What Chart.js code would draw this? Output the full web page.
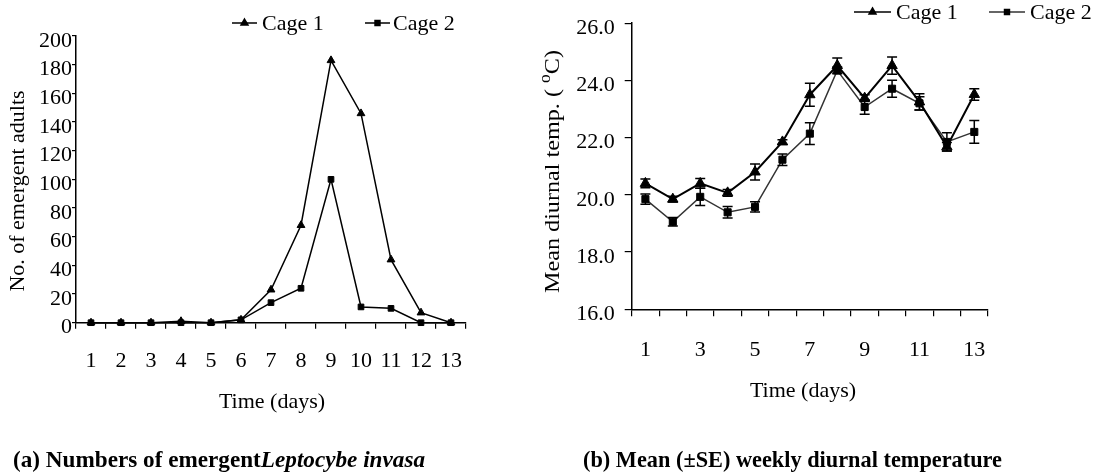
<!DOCTYPE html>
<html><head><meta charset="utf-8">
<script src="https://cdn.jsdelivr.net/npm/chart.js@4.4.1/dist/chart.umd.min.js"></script>
<style>
html,body{margin:0;padding:0;background:#fff;width:1107px;height:475px;overflow:hidden;}
#wa{position:absolute;left:0;top:0;width:530px;height:475px;}
#wb{position:absolute;left:530px;top:0;width:577px;height:475px;}
</style></head><body>
<div id="wa"><canvas id="ca" width="530" height="475"></canvas></div>
<div id="wb"><canvas id="cb" width="577" height="475"></canvas></div>
<script>
// ---------- data ----------
const days = ['1','2','3','4','5','6','7','8','9','10','11','12','13'];
const seriesNames = ['Cage 1', 'Cage 2'];
const emergCage1 = [0, 0, 0, 1, 0, 2, 23, 68, 183, 146, 44, 7, 0];
const emergCage2 = [0, 0, 0, 0, 0, 2, 14, 24, 100, 11, 10, 0, 0];
const emergTicks = [0, 20, 40, 60, 80, 100, 120, 140, 160, 180, 200];
const tempCage1   = [20.40, 19.85, 20.40, 20.07, 20.80, 21.85, 23.50, 24.52, 23.38, 24.52, 23.25, 21.68, 23.51];
const tempCage1SE = [0.15, 0.10, 0.17, 0.12, 0.28, 0.08, 0.40, 0.26, 0.12, 0.30, 0.28, 0.15, 0.20];
const tempCage2   = [19.85, 19.06, 19.93, 19.39, 19.58, 21.23, 22.14, 24.35, 23.07, 23.71, 23.20, 21.85, 22.20];
const tempCage2SE = [0.18, 0.15, 0.30, 0.20, 0.18, 0.20, 0.38, 0.12, 0.25, 0.30, 0.23, 0.32, 0.40];
const tempTicks = [16, 18, 20, 22, 24, 26];
const xTitle = 'Time (days)';
const yTitleA = 'No. of emergent adults';

const SERIF = '"Liberation Serif", "Times New Roman", serif';
const F22 = {family: SERIF, size: 22};

// error bar plugin
const errorBars = {
  id: 'errorBars',
  afterDatasetsDraw(chart) {
    const ctx = chart.ctx, ys = chart.scales.y;
    ctx.save();
    chart.data.datasets.forEach((ds, di) => {
      if (!ds.errors) return;
      const meta = chart.getDatasetMeta(di);
      ctx.strokeStyle = '#000';
      ctx.lineWidth = 1.5;
      meta.data.forEach((pt, i) => {
        const v = ds.data[i], e = ds.errors[i];
        const y1 = ys.getPixelForValue(v + e), y2 = ys.getPixelForValue(v - e);
        const x = pt.x, cw = 5;
        ctx.beginPath();
        ctx.moveTo(x, y1); ctx.lineTo(x, y2);
        ctx.moveTo(x - cw, y1); ctx.lineTo(x + cw, y1);
        ctx.moveTo(x - cw, y2); ctx.lineTo(x + cw, y2);
        ctx.stroke();
      });
    });
    ctx.restore();
  }
};

// decoration plugin: axis titles, legend, caption
const decor = {
  id: 'decor',
  afterDraw(chart, args, o) {
    const ctx = chart.ctx;
    ctx.save();
    ctx.fillStyle = '#000'; ctx.strokeStyle = '#000';
    (o.texts || []).forEach(t => {
      ctx.save();
      ctx.translate(t.x, t.y);
      if (t.rot) ctx.rotate(t.rot);
      ctx.textBaseline = 'middle';
      const segs = t.segs;
      let total = 0;
      segs.forEach(s => { ctx.font = s.font; s.w = ctx.measureText(s.text).width; total += s.w; });
      const scale = t.width ? t.width / total : 1;
      let x = t.align === 'left' ? 0 : -total * scale / 2;
      segs.forEach(s => {
        ctx.font = s.font;
        ctx.textAlign = 'left';
        ctx.save();
        ctx.translate(x, s.dy || 0);
        ctx.scale(scale, 1);
        ctx.fillText(s.text, 0, 0);
        ctx.restore();
        x += s.w * scale;
      });
      ctx.restore();
    });
    (o.legend || []).forEach((L, i) => {
      const ds = chart.data.datasets[i];
      ctx.strokeStyle = ds.borderColor;
      ctx.lineWidth = 1.5;
      ctx.beginPath(); ctx.moveTo(L.x1, L.y); ctx.lineTo(L.x2, L.y); ctx.stroke();
      ctx.fillStyle = '#000'; ctx.strokeStyle = '#000';
      Chart.helpers.drawPoint(ctx, {pointStyle: ds.pointStyle, radius: L.r, rotation: 0, borderWidth: 1}, (L.x1 + L.x2) / 2, L.y);
      ctx.font = '22px ' + SERIF;
      ctx.textAlign = 'left'; ctx.textBaseline = 'middle';
      ctx.fillText(ds.label, L.tx, L.y + 1);
    });
    ctx.restore();
  }
};

// ---------- chart (a) ----------
new Chart(document.getElementById('ca'), {
  type: 'line',
  data: {
    labels: days,
    datasets: [
      {label: seriesNames[0], data: emergCage1, borderColor: '#000', backgroundColor: '#000', borderWidth: 1.5,
       pointStyle: 'triangle', pointRadius: 4.5, pointBorderWidth: 1, tension: 0, clip: false},
      {label: seriesNames[1], data: emergCage2, borderColor: '#000', backgroundColor: '#000', borderWidth: 1.5,
       pointStyle: 'rect', pointRadius: 4, pointBorderWidth: 1, tension: 0, clip: false}
    ]
  },
  options: {
    responsive: false, animation: false, devicePixelRatio: 1,
    layout: {padding: {left: 0, right: 64, top: 36, bottom: 92.3}},
    plugins: {
      legend: {display: false}, tooltip: {enabled: false},
      decor: {
        texts: [
          {x: 18.5, y: 191, rot: -Math.PI / 2, segs: [{text: yTitleA, font: '22px ' + SERIF}]},
          {x: 272, y: 402, segs: [{text: xTitle, font: '22px ' + SERIF}]},
          {x: 13, y: 461, align: 'left', width: 412, segs: [
            {text: '(a) Numbers of emergent', font: 'bold 23px ' + SERIF},
            {text: 'Leptocybe invasa', font: 'italic bold 23px ' + SERIF}]}
        ],
        legend: [
          {x1: 232, x2: 257, y: 23, r: 4, tx: 262},
          {x1: 365, x2: 390, y: 23, r: 3.5, tx: 393}
        ]
      }
    },
    scales: {
      x: {
        type: 'category', offset: true,
        border: {display: true, color: '#000', width: 1.5},
        grid: {display: true, drawOnChartArea: false, drawTicks: true, offset: true, tickLength: 6, color: '#000', lineWidth: 1.2},
        ticks: {color: '#000', font: F22, padding: 19, maxRotation: 0, autoSkip: false},
        afterFit: s => { s.height = 60; }
      },
      y: {
        min: 0, max: 200,
        border: {display: true, color: '#000', width: 1.5},
        afterBuildTicks: s => { s.ticks = emergTicks.map(v => ({value: v})); },
        grid: {display: true, drawOnChartArea: false, drawTicks: true, tickLength: 4, color: '#000', lineWidth: 1.2},
        ticks: {color: '#000', font: F22, padding: 0, labelOffset: 5, autoSkip: false},
        afterFit: s => { s.width = 76; }
      }
    }
  },
  plugins: [decor]
});

// ---------- chart (b) ----------
const OFFB = 530;
new Chart(document.getElementById('cb'), {
  type: 'line',
  data: {
    labels: days,
    datasets: [
      {label: seriesNames[0], data: tempCage1, errors: tempCage1SE, borderColor: '#000', backgroundColor: '#000', borderWidth: 2,
       pointStyle: 'triangle', pointRadius: 6, pointBorderWidth: 1, tension: 0, clip: false},
      {label: seriesNames[1], data: tempCage2, errors: tempCage2SE, borderColor: '#333', backgroundColor: '#000', borderWidth: 1.5,
       pointStyle: 'rect', pointRadius: 5, pointBorderWidth: 1, pointBorderColor: '#000', tension: 0, clip: false}
    ]
  },
  options: {
    responsive: false, animation: false, devicePixelRatio: 1,
    layout: {padding: {left: 0, right: 1107 - 988 , top: 22.7, bottom: 105.7}},
    plugins: {
      legend: {display: false}, tooltip: {enabled: false},
      decor: {
        texts: [
          {x: 803 - OFFB, y: 391, segs: [{text: xTitle, font: '22px ' + SERIF}]},
          {x: 583 - OFFB, y: 461, align: 'left', width: 419, segs: [
            {text: '(b) Mean (±SE) weekly diurnal temperature', font: 'bold 23px ' + SERIF}]},
          {x: 553 - OFFB, y: 171.5, rot: -Math.PI / 2, width: 243, segs: [
            {text: 'Mean diurnal temp. ( ', font: '22px ' + SERIF},
            {text: 'o', font: '16px ' + SERIF, dy: -7},
            {text: 'C)', font: '22px ' + SERIF}]}
        ],
        legend: [
          {x1: 854 - OFFB, x2: 891 - OFFB, y: 12, r: 4, tx: 896 - OFFB},
          {x1: 989 - OFFB, x2: 1025 - OFFB, y: 12, r: 3.5, tx: 1030 - OFFB}
        ]
      }
    },
    scales: {
      x: {
        type: 'category', offset: true,
        border: {display: true, color: '#000', width: 1.5},
        grid: {display: true, drawOnChartArea: false, drawTicks: true, offset: true, tickLength: 7, color: '#000', lineWidth: 1.2},
        ticks: {color: '#000', font: F22, padding: 21, maxRotation: 0, autoSkip: false,
                callback: function(v, i) { return i % 2 === 0 ? this.getLabelForValue(v) : ''; }},
        afterFit: s => { s.height = 60; }
      },
      y: {
        min: 16, max: 26,
        border: {display: true, color: '#000', width: 1.5},
        afterBuildTicks: s => { s.ticks = tempTicks.map(v => ({value: v})); },
        grid: {display: true, drawOnChartArea: false, drawTicks: true, tickLength: 7, color: '#000', lineWidth: 1.2},
        ticks: {color: '#000', font: F22, padding: 10, labelOffset: 5, autoSkip: false, callback: v => Number(v).toFixed(1)},
        afterFit: s => { s.width = 631.7 - OFFB; }
      }
    }
  },
  plugins: [errorBars, decor]
});
</script>
</body></html>
